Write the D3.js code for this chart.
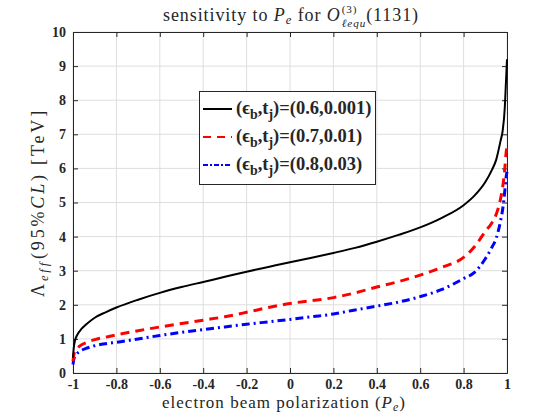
<!DOCTYPE html>
<html>
<head>
<meta charset="utf-8">
<script src="https://cdn.jsdelivr.net/npm/d3@7/dist/d3.min.js"></script>
<style>
  html, body { margin: 0; padding: 0; background: #fff; }
  svg { display: block; }
  svg text { white-space: pre; }
</style>
</head>
<body>
<svg id="chart" width="560" height="420"></svg>
<script>
// ---- data ----
const polarization = [-1, -0.997, -0.99, -0.98, -0.96, -0.94, -0.9, -0.85, -0.8, -0.7, -0.6, -0.5, -0.4, -0.3, -0.2, -0.1, 0, 0.1, 0.2, 0.3, 0.4, 0.5, 0.6, 0.7, 0.8, 0.85, 0.9, 0.93, 0.95, 0.97, 0.98, 0.99, 0.995, 1];
const lambdaBlack = [0.45, 0.7, 0.97, 1.12, 1.3, 1.42, 1.62, 1.78, 1.92, 2.15, 2.35, 2.52, 2.67, 2.82, 2.97, 3.11, 3.25, 3.38, 3.52, 3.67, 3.85, 4.05, 4.27, 4.55, 4.92, 5.2, 5.6, 5.95, 6.25, 6.8, 7.1, 7.8, 8.5, 9.2];
const lambdaRed   = [0.35, 0.5, 0.65, 0.73, 0.83, 0.89, 0.98, 1.05, 1.12, 1.24, 1.35, 1.45, 1.55, 1.65, 1.78, 1.92, 2.04, 2.12, 2.21, 2.35, 2.52, 2.68, 2.87, 3.1, 3.39, 3.7, 4.15, 4.4, 4.65, 5.1, 5.45, 6.0, 6.4, 6.65];
const lambdaBlue  = [0.25, 0.38, 0.5, 0.58, 0.67, 0.72, 0.8, 0.86, 0.9, 1.0, 1.1, 1.19, 1.27, 1.35, 1.43, 1.5, 1.57, 1.65, 1.73, 1.85, 1.96, 2.08, 2.24, 2.45, 2.77, 2.95, 3.35, 3.68, 3.95, 4.45, 4.8, 5.35, 5.7, 5.9];
const xTicks = [-1, -0.8, -0.6, -0.4, -0.2, 0, 0.2, 0.4, 0.6, 0.8, 1];
const yTicks = [0, 1, 2, 3, 4, 5, 6, 7, 8, 9, 10];
const legendEps = ["0.6", "0.7", "0.8"];
const legendTj  = ["0.001", "0.01", "0.03"];

const seriesList = [
  { values: lambdaBlack, color: "#000000", width: 2, dash: null,      legDash: null,      eps: legendEps[0], tj: legendTj[0] },
  { values: lambdaRed,   color: "#ff0000", width: 3, dash: "9,6",     legDash: "8,6",     eps: legendEps[1], tj: legendTj[1] },
  { values: lambdaBlue,  color: "#0000ff", width: 3, dash: "8,4,2,4", legDash: "5,2,2,2", eps: legendEps[2], tj: legendTj[2] }
];

// ---- layout ----
const svg = d3.select("#chart");
const L = 73, R = 507, T = 32, B = 373;
const x = d3.scaleLinear().domain([-1, 1]).range([L, R]);
const y = d3.scaleLinear().domain([0, 10]).range([B, T]);
const SERIF = "Liberation Serif";

// rich text helper: pieces {t, it, bold, s (scale), dy, stack, after}
function rich(parent, pieces, px, py, anchor, size, weight, target) {
  const g = parent.append("g");
  const nodes = pieces.map(p => {
    const t = g.append("text")
      .style("font-family", SERIF)
      .style("font-size", (size * (p.s || 1)) + "px")
      .style("font-style", p.it ? "italic" : "normal")
      .style("font-weight", (p.bold || weight === "bold") ? "bold" : "normal")
      .style("white-space", "pre")
      .attr("fill", "#262626")
      .attr("y", py + (p.dy || 0))
      .text(p.t);
    return { t, p };
  });
  const layout = () => {
    let cx = 0, startPrev = 0, prevW = 0;
    const xs = [];
    nodes.forEach(n => {
      const w = n.t.node().getComputedTextLength();
      if (n.p.stack) {
        xs.push(startPrev);
        prevW = Math.max(prevW, w);
        cx = startPrev + prevW + (n.p.after || 0);
      } else {
        xs.push(cx);
        startPrev = cx;
        prevW = w;
        cx += w + (n.p.after || 0);
      }
    });
    return { xs, cx };
  };
  let lay = layout();
  if (target) {
    const nChars = nodes.filter(n => !n.p.stack).reduce((a, n) => a + n.p.t.length, 0);
    const ls = Math.max(0, (target - lay.cx) / nChars);
    nodes.forEach(n => n.t.style("letter-spacing", ls + "px"));
    lay = layout();
  }
  const off = anchor === "middle" ? -lay.cx / 2 : 0;
  nodes.forEach((n, i) => n.t.attr("x", px + off + lay.xs[i]));
  return g;
}

// background
svg.append("rect").attr("width", 560).attr("height", 420).attr("fill", "#fff");

// grid
const grid = svg.append("g").attr("stroke", "#dedede").attr("stroke-width", 1);
xTicks.forEach(v => grid.append("line")
  .attr("x1", x(v)).attr("x2", x(v)).attr("y1", T).attr("y2", B));
yTicks.forEach(v => grid.append("line")
  .attr("x1", L).attr("x2", R).attr("y1", y(v)).attr("y2", y(v)));

// axes via d3 (ticks inward)
const tickFont = g => g.selectAll("text")
  .style("font-family", SERIF).style("font-size", "14px").style("font-weight", "bold").attr("fill", "#262626");
const xAxis = svg.append("g").attr("transform", `translate(0,${B})`)
  .call(d3.axisBottom(x).tickValues(xTicks).tickSize(-5).tickPadding(6).tickFormat(d => String(d)));
xAxis.call(tickFont);
const yAxis = svg.append("g").attr("transform", `translate(${L},0)`)
  .call(d3.axisLeft(y).tickValues(yTicks).tickSize(-5).tickPadding(7).tickFormat(d3.format("d")));
yAxis.call(tickFont);
const xTop = svg.append("g").attr("transform", `translate(0,${T})`)
  .call(d3.axisTop(x).tickValues(xTicks).tickSize(-5).tickFormat(""));
const yRight = svg.append("g").attr("transform", `translate(${R},0)`)
  .call(d3.axisRight(y).tickValues(yTicks).tickSize(-5).tickFormat(""));
[xAxis, yAxis, xTop, yRight].forEach(a => {
  a.select(".domain").attr("stroke", "#262626").attr("stroke-width", 1);
  a.selectAll(".tick line").attr("stroke", "#262626");
});

// curves
const line = d3.line().x((d, i) => x(polarization[i])).y(d => y(d)).curve(d3.curveMonotoneX);
const curves = svg.append("g");
seriesList.slice().reverse().forEach(s => {
  curves.append("path")
    .attr("d", line(s.values))
    .attr("fill", "none")
    .attr("stroke", s.color)
    .attr("stroke-width", s.width)
    .attr("stroke-dasharray", s.dash)
    .attr("stroke-linejoin", "round");
});

// title
rich(svg, [
  { t: "sensitivity to " },
  { t: "P", it: true },
  { t: "e", it: true, s: 0.7, dy: 3 },
  { t: " for " },
  { t: "O", it: true, after: 1 },
  { t: "(3)", s: 0.62, dy: -8 },
  { t: "ℓequ", it: true, s: 0.62, dy: 6, stack: true },
  { t: "(1131)" }
], 291, 21, "middle", 18, null, 255);

// x label
rich(svg, [
  { t: "electron beam polarization (" },
  { t: "P", it: true },
  { t: "e", it: true, s: 0.7, dy: 3 },
  { t: ")" }
], 284, 408, "middle", 17, null, 244);

// y label
const yl = svg.append("g").attr("transform", `translate(44,${(T + B) / 2}) rotate(-90)`);
rich(yl, [
  { t: "Λ" },
  { t: "eff", it: true, s: 0.7, dy: 4, after: 1 },
  { t: "(95%" },
  { t: "CL", it: true },
  { t: ") [TeV]" }
], 0, 0, "middle", 18, null, 189);

// legend
const lg = svg.append("g");
lg.append("rect").attr("x", 199.5).attr("y", 91.5).attr("width", 176).attr("height", 93)
  .attr("fill", "#fff").attr("stroke", "#262626").attr("stroke-width", 1);
const rowY = [109, 137, 165];
seriesList.forEach((s, i) => {
  lg.append("line").attr("x1", 203).attr("x2", 232).attr("y1", rowY[i]).attr("y2", rowY[i])
    .attr("stroke", s.color).attr("stroke-width", 2)
    .attr("stroke-dasharray", s.legDash);
  rich(lg, [
    { t: "(ϵ" },
    { t: "b", s: 0.75, dy: 5 },
    { t: ",t" },
    { t: "j", s: 0.75, dy: 5 },
    { t: ")=(" + s.eps + "," + s.tj + ")" }
  ], 236, rowY[i] + 5, "start", 18.5, "bold");
});
</script>
</body>
</html>
